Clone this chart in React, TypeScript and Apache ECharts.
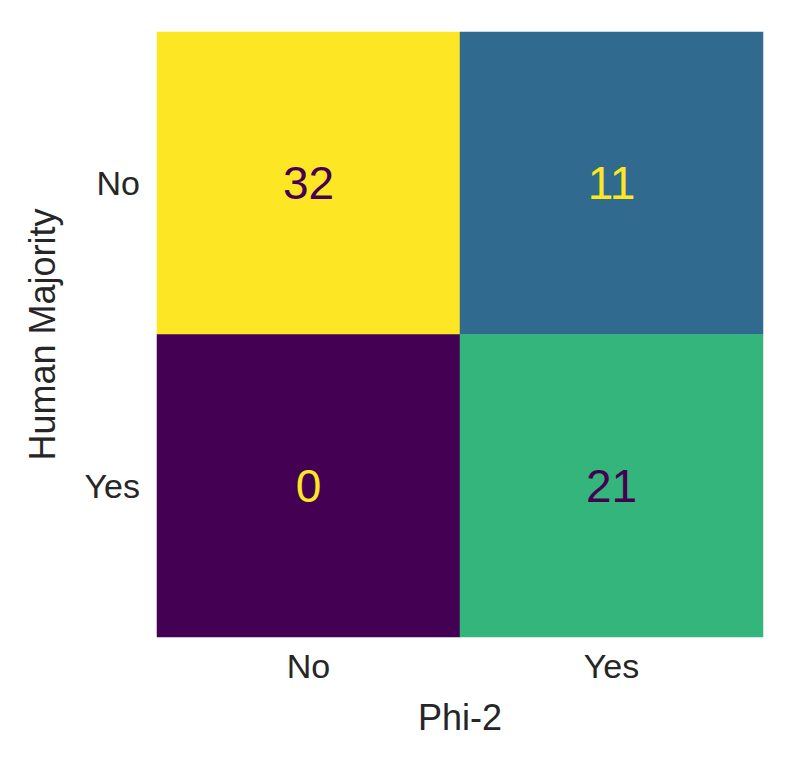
import React, { useEffect, useRef } from "react";
import * as echarts from "echarts";

const xCategories = ["No", "Yes"];
const yCategories = ["No", "Yes"];
// [xIndex, yIndex, value]
const cells: [number, number, number][] = [
  [0, 0, 32],
  [1, 0, 11],
  [0, 1, 0],
  [1, 1, 21],
];
const xTitle = "Phi-2";
const yTitle = "Human Majority";

const viridis = [
  "#440154", "#482878", "#3e4989", "#31688e", "#26828e",
  "#1f9e89", "#35b779", "#6ece58", "#b5de2b", "#fde725",
];

export default function App() {
  const ref = useRef<HTMLDivElement>(null);
  useEffect(() => {
    if (!ref.current) return;
    const chart = echarts.init(ref.current, null, { renderer: "svg" });
    const maxV = Math.max(...cells.map((c) => c[2]));
    const font = "'Liberation Sans', Arial, sans-serif";
    chart.setOption({
      animation: false,
      backgroundColor: "#ffffff",
      grid: { left: 157, top: 32, width: 606, height: 605 },
      xAxis: {
        type: "category",
        data: xCategories,
        name: xTitle,
        nameLocation: "middle",
        nameGap: 62,
        nameTextStyle: { fontSize: 36, color: "#262626", fontFamily: font },
        axisLine: { show: false },
        axisTick: { show: false },
        splitArea: { show: false },
        axisLabel: { fontSize: 34, color: "#262626", fontFamily: font, margin: 12 },
      },
      yAxis: {
        type: "category",
        data: yCategories,
        inverse: true,
        name: yTitle,
        nameLocation: "middle",
        nameGap: 97,
        nameRotate: 90,
        nameTextStyle: { fontSize: 36, color: "#262626", fontFamily: font },
        axisLine: { show: false },
        axisTick: { show: false },
        splitArea: { show: false },
        axisLabel: { fontSize: 34, color: "#262626", fontFamily: font, margin: 17 },
      },
      visualMap: {
        show: false,
        min: 0,
        max: maxV,
        dimension: 2,
        inRange: { color: viridis },
      },
      series: [
        {
          type: "heatmap",
          data: cells.map((c) => ({
            value: c,
            label: { color: c[2] / maxV > 0.5 ? "#440154" : "#fde725" },
          })),
          label: {
            show: true,
            fontSize: 46,
            fontFamily: font,
            formatter: (p: any) => String(p.value[2]),
          },
          itemStyle: { borderWidth: 0 },
        },
      ],
    });
    return () => chart.dispose();
  }, []);
  return (
    <div
      ref={ref}
      style={{ position: "fixed", left: 0, top: 0, width: 795, height: 769 }}
    />
  );
}
